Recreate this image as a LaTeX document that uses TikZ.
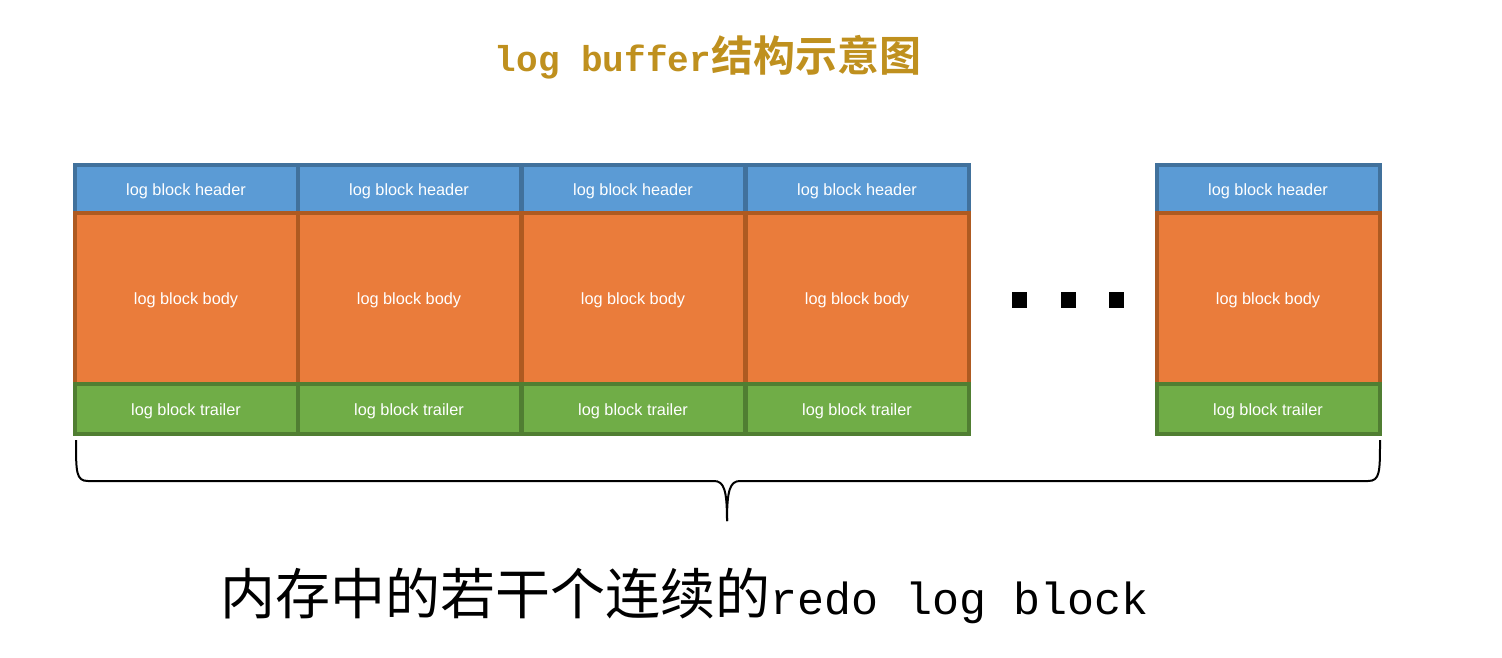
\documentclass[tikz,border=0pt]{standalone}
\usepackage{fontspec}
\setmainfont{Liberation Sans}
\newfontfamily\cjk{Noto Sans CJK SC}
\newfontfamily\cjkb{Noto Sans CJK SC}[BoldFont={* Bold}]
\newfontfamily\monof{Liberation Mono}
\definecolor{hfill}{HTML}{5B9BD5}
\definecolor{hdraw}{HTML}{41719C}
\definecolor{bfill}{HTML}{EA7C3B}
\definecolor{bdraw}{HTML}{AE5A21}
\definecolor{tfill}{HTML}{70AD47}
\definecolor{tdraw}{HTML}{507E32}
\definecolor{titlec}{RGB}{191,144,30}
\newcommand\celltext[1]{\raisebox{-2pt}[\height][\depth]{#1}}
\begin{document}
\begin{tikzpicture}[x=1pt,y=-1pt,
  cell/.style={rectangle,line width=4pt,minimum width=223pt,inner sep=0pt,
    text=white,font=\fontsize{16.3}{18}\selectfont},
  hdr/.style={cell,fill=hfill,draw=hdraw,minimum height=48pt},
  bdy/.style={cell,fill=bfill,draw=bdraw,minimum height=171pt},
  trl/.style={cell,fill=tfill,draw=tdraw,minimum height=50pt},
  dot/.style={rectangle,fill=black,minimum width=15pt,minimum height=16pt,inner sep=0pt},
  brace/.style={line width=2pt,black}]
\useasboundingbox (0,0) rectangle (1502,657);
\foreach \i/\cx in {1/186,2/409,3/633,4/857,5/1268}{
  \node[hdr] (h\i) at (\cx,189) {\celltext{log block header}};
}
\foreach \i/\cx in {1/186,2/409,3/633,4/857,5/1268}{
  \node[bdy] (b\i) at (\cx,298.5) {\celltext{log block body}};
}
\foreach \i/\cx in {1/186,2/409,3/633,4/857,5/1268}{
  \node[trl] (t\i) at (\cx,409) {\celltext{log block trailer}};
}
\node[dot] (d1) at (1019.5,300) {};
\node[dot] (d2) at (1068.5,300) {};
\node[dot] (d3) at (1116.5,300) {};
\coordinate (bl) at (76,440);
\coordinate (br) at (1380,440);
\coordinate (bt) at (727,521);
\draw[brace] (bl) .. controls (76,472) and (76,481) .. (88,481) -- (714,481)
  .. controls (724,481) and (727,490) .. (bt);
\draw[brace] (br) .. controls (1380,472) and (1380,481) .. (1368,481) -- (740,481)
  .. controls (730,481) and (727,490) .. (bt);
\node[text=titlec,inner sep=0pt] (title) at (708,57)
  {\monof\bfseries\fontsize{36}{40}\selectfont log buffer\cjkb\bfseries\fontsize{42}{46}\selectfont 结构示意图};
\node[inner sep=0pt] (caption) at (685,596)
  {\cjk\fontsize{55}{60}\selectfont 内存中的若干个连续的\monof\fontsize{45}{50}\selectfont redo log block};
\end{tikzpicture}
\end{document}
